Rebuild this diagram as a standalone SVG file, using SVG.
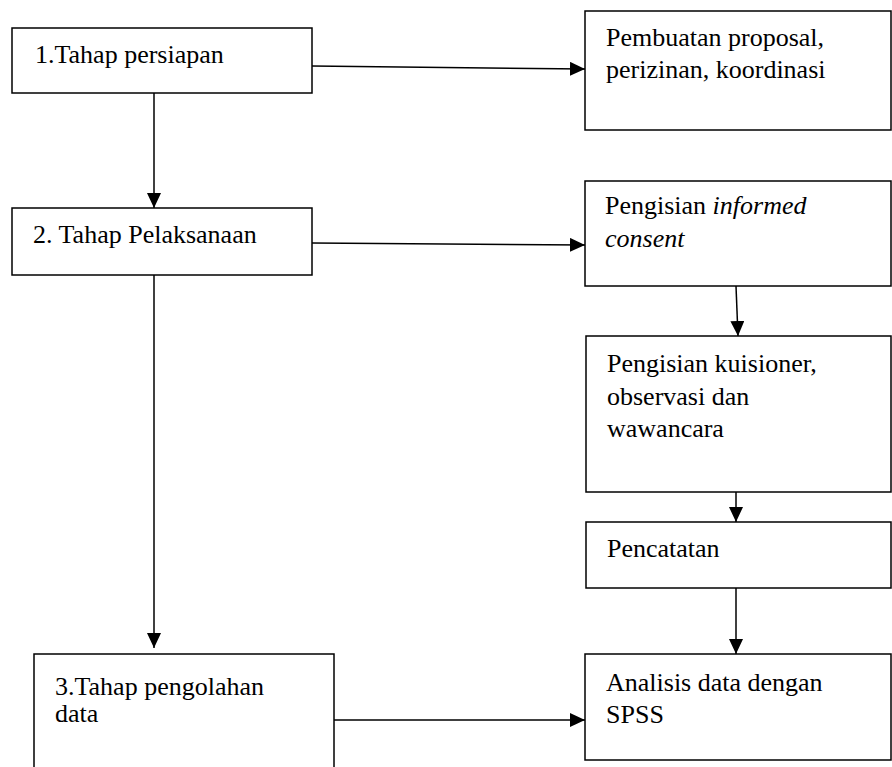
<svg xmlns="http://www.w3.org/2000/svg" width="892" height="767" viewBox="0 0 892 767">
<style>
.box{fill:#fff;stroke:#000;stroke-width:1.5}
.t{font-family:"Liberation Serif","Times New Roman",serif;font-size:26px;fill:#000}
.c{stroke:#000;stroke-width:1.5;fill:none;marker-end:url(#ah)}
</style>
<defs>
<marker id="ah" markerUnits="userSpaceOnUse" markerWidth="16" markerHeight="14" refX="15" refY="7" orient="auto">
<path d="M0,0 L15,7 L0,14 Z" fill="#000"/>
</marker>
</defs>
<rect width="892" height="767" fill="#fff"/>
<g id="connectors">
<line class="c" x1="312" y1="66" x2="585" y2="69"/>
<line class="c" x1="154" y1="93" x2="154" y2="208"/>
<line class="c" x1="312" y1="243" x2="585" y2="245"/>
<line class="c" x1="154" y1="275" x2="154" y2="648"/>
<line class="c" x1="736" y1="286" x2="738" y2="336"/>
<line class="c" x1="736" y1="492" x2="736" y2="522"/>
<line class="c" x1="736" y1="588" x2="736" y2="654"/>
<line class="c" x1="334" y1="720" x2="585" y2="720"/>
</g>
<g id="n1"><rect class="box" x="12" y="28" width="300" height="65"/><text class="t" x="35" y="63">1.Tahap persiapan</text></g>
<g id="n2"><rect class="box" x="12" y="208" width="300" height="67"/><text class="t" x="33" y="243">2. Tahap Pelaksanaan</text></g>
<g id="n3"><rect class="box" x="34" y="654" width="300" height="120"/><text class="t" x="55" y="695">3.Tahap pengolahan</text><text class="t" x="55" y="722">data</text></g>
<g id="r1"><rect class="box" x="585" y="11" width="306" height="119"/><text class="t" x="606" y="46">Pembuatan proposal,</text><text class="t" x="606" y="78">perizinan, koordinasi</text></g>
<g id="r2"><rect class="box" x="585" y="181" width="306" height="105"/><text class="t" x="605" y="214">Pengisian <tspan font-style="italic">informed</tspan></text><text class="t" x="605" y="247" font-style="italic">consent</text></g>
<g id="r3"><rect class="box" x="586" y="336" width="305" height="156"/><text class="t" x="607" y="372">Pengisian kuisioner,</text><text class="t" x="607" y="405">observasi dan</text><text class="t" x="607" y="437">wawancara</text></g>
<g id="r4"><rect class="box" x="586" y="522" width="305" height="66"/><text class="t" x="607" y="557">Pencatatan</text></g>
<g id="r5"><rect class="box" x="585" y="654" width="306" height="106"/><text class="t" x="606" y="691">Analisis data dengan</text><text class="t" x="606" y="723">SPSS</text></g>
</svg>
